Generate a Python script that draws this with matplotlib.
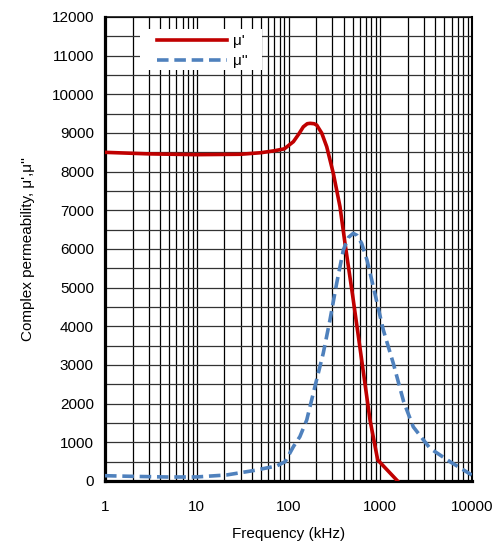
import matplotlib

matplotlib.use("Agg")
import matplotlib.pyplot as plt
import numpy as np
from matplotlib.patches import Rectangle
from matplotlib.ticker import FixedLocator, NullFormatter

plt.rcParams["font.family"] = ["Liberation Sans", "DejaVu Sans"]

# 复磁导率实部 μ'
freq_re = [1, 3, 10, 30, 50, 70, 90, 113, 130, 145, 160, 172, 190, 203, 230, 261, 308, 364, 413, 500, 650, 773, 938, 1545]
mu_re = [8500, 8460, 8440, 8450, 8490, 8540, 8590, 8775, 8980, 9160, 9240, 9250, 9240, 9205, 9000, 8645, 7955, 7095, 6145, 4800, 2870, 1580, 545, 0]

# 复磁导率虚部 μ''
freq_im = [1, 2, 5, 10, 21, 41, 74, 92, 113, 133, 158, 194, 239, 283, 335, 396, 450, 508, 560, 627, 720, 840, 1080, 1387, 1800, 2290, 3487, 5755, 9930]
mu_im = [137, 120, 103, 105, 155, 267, 388, 500, 888, 1146, 1577, 2440, 3300, 4163, 5113, 5974, 6300, 6405, 6350, 6146, 5700, 5025, 3905, 3043, 2050, 1400, 845, 500, 155]

fig = plt.figure(figsize=(4.94, 5.42), dpi=100)
ax = fig.add_axes([105 / 494, 61 / 542, 367 / 494, 464 / 542])

ax.plot(freq_re, mu_re, color="#C00000", linewidth=2.6, label="μ'", zorder=4)
ax.plot(freq_im, mu_im, color="#4F81BD", linewidth=2.6, linestyle=(0, (3.2, 1.6)), label="μ''", zorder=4)

ax.set_xscale("log")
ax.set_xlim(1, 10000)
ax.set_ylim(0, 12000)
ax.set_yticks(np.arange(0, 12001, 1000))
ax.yaxis.set_minor_locator(FixedLocator(np.arange(500, 12000, 1000)))
ax.xaxis.set_minor_locator(FixedLocator([m * 10 ** d for d in range(4) for m in range(2, 10)]))
ax.xaxis.set_minor_formatter(NullFormatter())
ax.set_xticks([1, 10, 100, 1000, 10000])
ax.set_xticklabels(["1", "10", "100", "1000", "10000"])

ax.grid(which="both", axis="x", color="black", linewidth=0.9)
ax.grid(which="both", axis="y", color="#333333", linewidth=0.9)
ax.tick_params(which="both", length=0, labelsize=11)
ax.tick_params(axis="y", pad=8)
ax.tick_params(axis="x", pad=14)
for side in ["left", "bottom"]:
    ax.spines[side].set_linewidth(2.3)
ax.spines["top"].set_linewidth(1.1)
ax.spines["right"].set_linewidth(1.5)

ax.set_xlabel("Frequency (kHz)", fontsize=11, labelpad=9)
ax.set_ylabel("Complex permeability, μ',μ''", fontsize=11, labelpad=12)

# 图例白底
ax.add_patch(Rectangle((0.0954, 0.886), 0.333, 0.088, transform=ax.transAxes,
                       facecolor="white", edgecolor="none", zorder=5))
leg = ax.legend(loc="upper left", bbox_to_anchor=(0.141, 0.963), fontsize=11, frameon=False,
                handlelength=4.6, handletextpad=0.4, borderpad=0, labelspacing=0.4,
                borderaxespad=0)
leg.set_zorder(6)

fig.savefig("out.png", dpi=100)
